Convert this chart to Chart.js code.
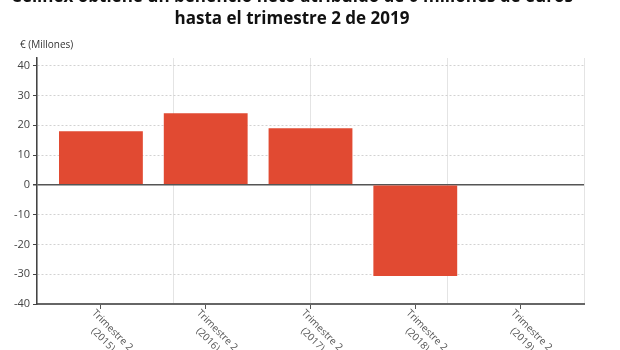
<!DOCTYPE html>
<html>
  <head>
    <meta charset="utf-8">
    <title>Cellnex beneficio neto</title>
    <script src="https://cdn.jsdelivr.net/npm/chart.js@4.4.1/dist/chart.umd.min.js"></script>
    <style>
      html,
      body {
        margin: 0;
        padding: 0;
        background: #fff;
        overflow: hidden;
      }

      .chart {
        position: absolute;
        left: 0;
        top: -14px;
        width: 620px;
        height: 364px;
      }
    </style>
  </head>

  <body>
    <div class="chart">
      <canvas id="myChart" width="620" height="364"></canvas>
    </div>

    <script>
      const titleLines = [
        'Cellnex obtiene un beneficio neto atribuido de 0 millones de euros',
        'hasta el trimestre 2 de 2019'
      ];
      const unitLabel = '€ (Millones)';
      const years = ['2015', '2016', '2017', '2018', '2019'];
      const categories = years.map(y => ['Trimestre 2', '(' + y + ')']);
      const values = [18, 24, 19, -30.6, 0];
      const yTicks = [-40, -30, -20, -10, 0, 10, 20, 30, 40];

      Chart.defaults.font.family = "'Open Sans', sans-serif";

      // rotated two-line labels under the x axis, drawn down to the right
      const xLabels = {
        id: 'xLabels',
        afterDraw(chart) {
          const ctx = chart.ctx;
          const xs = chart.scales.x;
          ctx.save();
          ctx.font = "10px 'Open Sans', sans-serif";
          ctx.fillStyle = '#555';
          ctx.textBaseline = 'top';
          ctx.textAlign = 'left';
          categories.forEach((lines, i) => {
            const px = xs.getPixelForValue(i);
            ctx.save();
            ctx.translate(px - 4, xs.top + 4);
            ctx.rotate(Math.PI / 4);
            const w1 = ctx.measureText(lines[0]).width;
            const w2 = ctx.measureText(lines[1]).width;
            ctx.fillText(lines[0], 0, 0);
            ctx.fillText(lines[1], (w1 - w2) / 2, 13);
            ctx.restore();
          });
          ctx.restore();
        }
      };

      const unitText = {
        id: 'unitText',
        afterDraw(chart) {
          const ctx = chart.ctx;
          ctx.save();
          ctx.font = "10px 'Open Sans', sans-serif";
          ctx.fillStyle = '#333';
          ctx.textBaseline = 'middle';
          ctx.fillText(unitLabel, 20, chart.chartArea.top - 13);
          ctx.restore();
        }
      };

      const data = {
        datasets: [{
          data: values.map((v, i) => ({ x: i, y: v })),
          backgroundColor: '#e14a32',
          borderWidth: 0,
          categoryPercentage: 0.8,
          barPercentage: 1
        }]
      };

      const config = {
        type: 'bar',
        data,
        plugins: [xLabels, unitText],
        options: {
          responsive: false,
          animation: false,
          layout: {
            padding: { left: 0, right: 36, top: 0, bottom: 0 }
          },
          scales: {
            x: {
              type: 'linear',
              position: 'bottom',
              offset: false,
              min: -0.61,
              max: 4.61,
              afterBuildTicks: function (scale) {
                scale.ticks = categories.map((c, i) => ({ value: i }));
              },
              afterFit: function (scale) {
                scale.height = 46;
              },
              ticks: { display: false },
              grid: {
                offset: false,
                drawOnChartArea: false,
                drawTicks: true,
                tickLength: 5,
                tickColor: '#555'
              },
              border: { color: '#666', width: 2 }
            },
            // vertical grid only
            x2: {
              type: 'linear',
              position: 'top',
              offset: false,
              min: 0,
              max: 4,
              afterBuildTicks: function (scale) {
                scale.ticks = [0, 1, 2, 3, 4].map(v => ({ value: v }));
              },
              afterFit: function (scale) {
                scale.height = 0;
              },
              ticks: { display: false },
              grid: {
                offset: false,
                color: '#e4e4e4',
                lineWidth: 1,
                drawTicks: false
              },
              border: { display: false }
            },
            y: {
              min: -40,
              max: 42.5,
              afterBuildTicks: function (scale) {
                scale.ticks = yTicks.map(v => ({ value: v }));
              },
              afterFit: function (scale) {
                scale.width = 37;
              },
              ticks: {
                color: '#444',
                padding: 3,
                font: { size: 11 }
              },
              grid: {
                color: (c) => (c.tick && c.tick.value === 0 ? '#555' : '#d2d2d2'),
                lineWidth: (c) => (c.tick && c.tick.value === 0 ? 1.5 : 1),
                tickLength: 4,
                tickColor: '#444'
              },
              border: {
                color: '#444',
                width: 1.5,
                dash: (c) => (c.tick && c.tick.value === 0 ? [] : [2, 2])
              }
            }
          },
          plugins: {
            title: {
              display: true,
              text: titleLines,
              color: '#111',
              font: { size: 17, weight: 'bold', lineHeight: 1.3 },
              padding: { top: 0, bottom: 28 }
            },
            legend: { display: false },
            tooltip: { enabled: false }
          }
        }
      };

      const myChart = new Chart(document.getElementById('myChart'), config);
    </script>
  </body>
</html>
